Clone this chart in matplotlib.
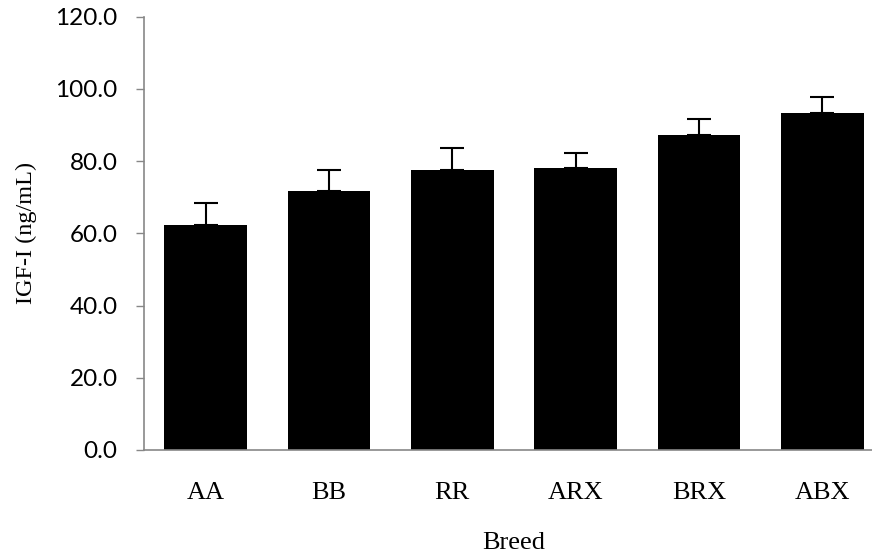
import matplotlib.pyplot as plt

breeds = ['AA', 'BB', 'RR', 'ARX', 'BRX', 'ABX']
igf_mean = [62.2, 71.6, 77.5, 78.0, 87.2, 93.2]
igf_se = [6.2, 5.9, 6.1, 4.2, 4.4, 4.5]
y_ticks = [0, 20, 40, 60, 80, 100, 120]

GREY = '#878787'

fig = plt.figure(figsize=(8.72, 5.54), dpi=100)
ax = fig.add_axes([144 / 872, 104 / 554, 740 / 872, 433.3 / 554])

x = range(len(breeds))
ax.bar(x, igf_mean, width=0.67, color='black', zorder=2)
# only the upper half of the error bar is shown
ax.errorbar(x, igf_mean, yerr=[[0] * len(igf_se), igf_se], fmt='none',
            ecolor='black', elinewidth=1.5, capsize=8.5, capthick=1.5, zorder=3)

ax.set_xlim(-0.5, len(breeds) - 0.5)
ax.set_ylim(0, 120)
ax.set_yticks(y_ticks)
ax.set_yticklabels([f'{v:.1f}' for v in y_ticks], family='Lato', fontsize=17.5)
ax.set_xticks(list(x))
ax.set_xticklabels(breeds, family='Liberation Serif', fontsize=19)

ax.tick_params(axis='y', length=6, width=1.0, color=GREY, pad=13)
ax.tick_params(axis='x', length=0, pad=23)

for side in ['top', 'right']:
    ax.spines[side].set_visible(False)
for side in ['left', 'bottom']:
    ax.spines[side].set_color(GREY)
    ax.spines[side].set_linewidth(1.2)

ax.set_xlabel('Breed', family='Liberation Serif', fontsize=19, labelpad=20)
ax.set_ylabel('IGF-I (ng/mL)', family='Liberation Serif', fontsize=17.5, labelpad=13)

fig.savefig('out.png', dpi=100)
